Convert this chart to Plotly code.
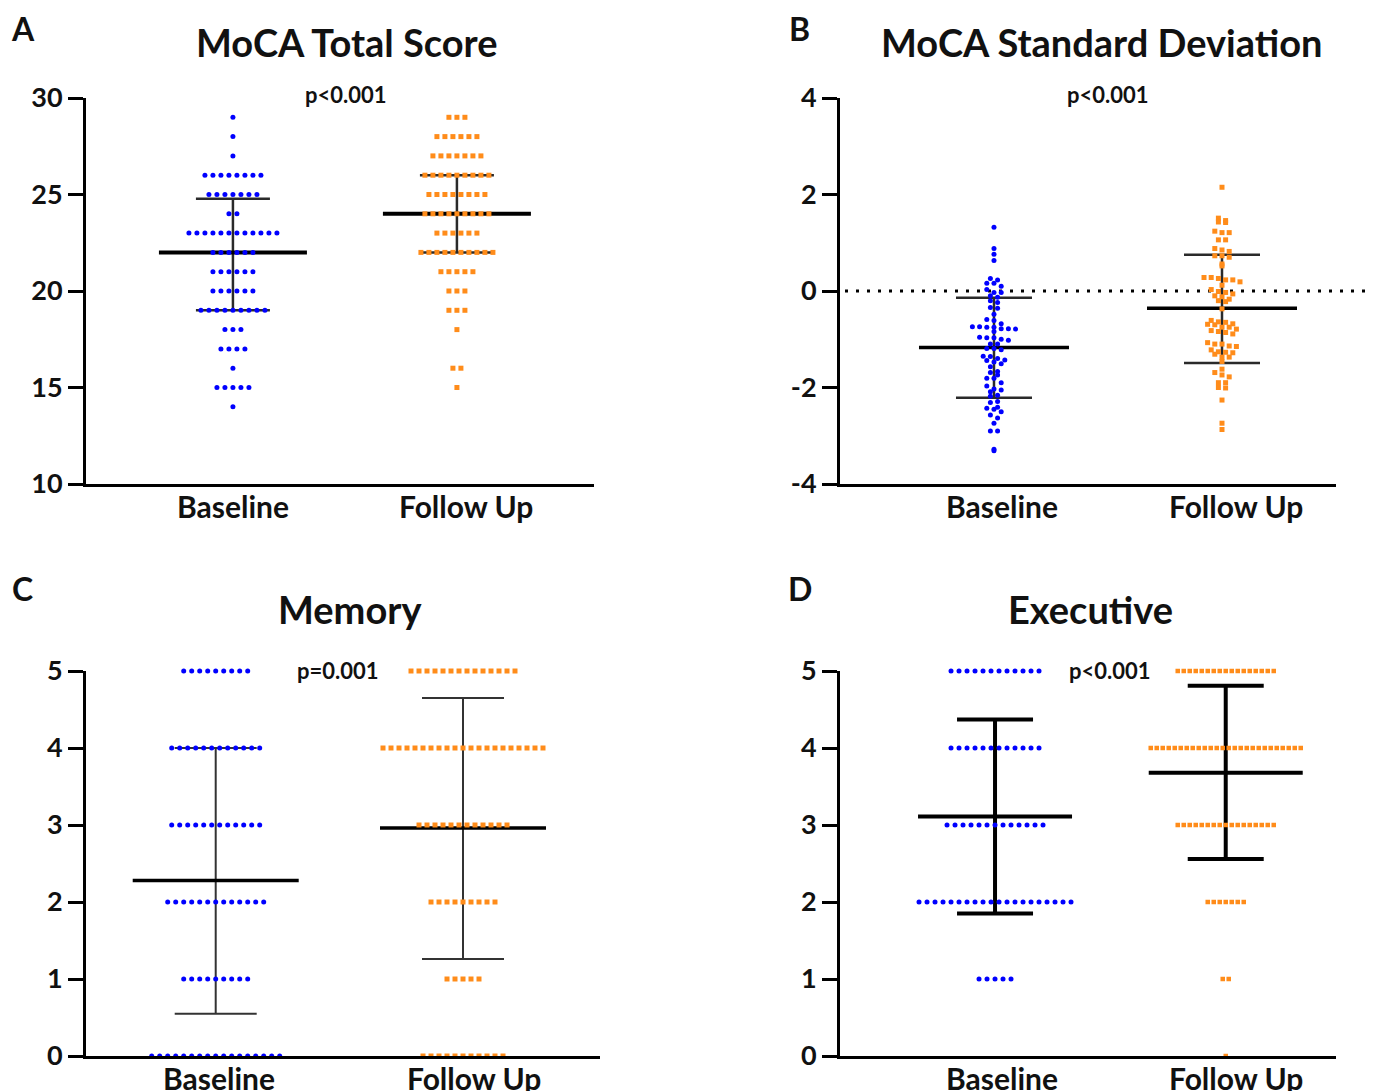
import numpy as np
import plotly.graph_objects as go

# The page adds an 8px body margin, so the figure is drawn 8px smaller and all
# layout pixel positions (measured on the page) are shifted by OFF.
OFF = 8
W, H = 1375 - OFF, 1091 - OFF

GROUPS = ["Baseline", "Follow Up"]

# ---------------- Panel A: MoCA Total Score (score -> number of participants)
A_scores = [29, 28, 27, 26, 25, 24, 23, 22, 21, 20, 19, 18, 17, 16, 15, 14]
A_base_counts = [1, 1, 1, 8, 7, 2, 12, 6, 6, 6, 9, 3, 4, 1, 5, 1]
A_follow_counts = [3, 6, 7, 9, 8, 9, 6, 10, 5, 3, 3, 1, 0, 2, 1, 0]
A_center = [22.0, 24.0]
A_err_lo = [19.0, 22.0]
A_err_hi = [24.78, 26.0]

# ---------------- Panel B: MoCA Standard Deviation (individual values)
B_base = [1.32, 0.88, 0.76, 0.63, 0.26, 0.23, 0.16, 0.16, 0.10, 0.03, -0.03, -0.03,
          -0.10, -0.13, -0.20, -0.24, -0.34, -0.36, -0.48, -0.59, -0.61, -0.68,
          -0.74, -0.74, -0.75, -0.75, -0.78, -0.78, -0.79, -0.84, -0.96, -0.97, -0.97,
          -1.00, -1.02, -1.10, -1.10, -1.19, -1.19, -1.22, -1.35, -1.36, -1.40,
          -1.43, -1.44, -1.47, -1.51, -1.57, -1.67, -1.69, -1.74, -1.81, -1.81,
          -1.90, -1.97, -2.03, -2.05, -2.09, -2.16, -2.18, -2.29, -2.31, -2.41,
          -2.43, -2.45, -2.50, -2.57, -2.63, -2.74, -2.90, -2.90, -3.28, -3.31]
B_follow = [2.15, 1.51, 1.42, 1.46, 1.43, 1.21, 1.21, 1.24, 1.06, 1.06, 0.88, 0.85,
            0.82, 0.73, 0.73, 0.70, 0.56, 0.52, 0.28, 0.26, 0.23, 0.28, 0.19, 0.23,
            0.12, 0.03, -0.01, -0.03, -0.06, -0.10, -0.12, -0.17, -0.20, -0.22, -0.37,
            -0.61, -0.64, -0.65, -0.68, -0.69, -0.70, -0.75, -0.75, -0.79, -0.82,
            -0.84, -0.86, -0.89, -1.07, -1.10, -1.10, -1.14, -1.15, -1.22, -1.26,
            -1.27, -1.28, -1.31, -1.37, -1.37, -1.46, -1.62, -1.69, -1.74, -1.78,
            -1.90, -1.90, -2.00, -2.01, -2.26, -2.74, -2.87]
B_center = [-1.17, -0.36]
B_err_lo = [-2.21, -1.49]
B_err_hi = [-0.14, 0.75]

# ---------------- Panel C: Memory
C_scores = [5, 4, 3, 2, 1, 0]
C_base_counts = [9, 12, 12, 13, 9, 17]
C_follow_counts = [14, 21, 12, 9, 5, 11]
C_center = [2.28, 2.96]
C_err_lo = [0.55, 1.26]
C_err_hi = [4.0, 4.65]

# ---------------- Panel D: Executive
D_scores = [5, 4, 3, 2, 1, 0]
D_base_counts = [12, 12, 13, 20, 5, 0]
D_follow_counts = [17, 26, 17, 7, 2, 1]
D_center = [3.11, 3.68]
D_err_lo = [1.85, 2.56]
D_err_hi = [4.37, 4.81]

BLUE = "#0000FF"
ORANGE = "#FF8C1A"
FONT = "Lato"

panels = [
    dict(key="", letter="A", title="MoCA Total Score", p="p<0.001",
         xpx=(86, 594), ypx=(98, 484), xr=(0.344, 2.612), yr=(10, 30),
         ytick=[10, 15, 20, 25, 30], labx=[1.0, 2.04], lab_y=506,
         title_xy=(347, 42), letter_xy=(23, 28), p_xy=(346, 94),
         mean_hw=74, cap_hw=37, mean_w=4, err_w=2.5, err_c="#2a2a2a"),
    dict(key="2", letter="B", title="MoCA Standard Deviation", p="p<0.001",
         xpx=(840, 1336), ypx=(98, 484), xr=(0.3246, 2.5), yr=(-4, 4),
         ytick=[-4, -2, 0, 2, 4], labx=[1.035, 2.061], lab_y=506,
         title_xy=(1101, 42), letter_xy=(800, 28), p_xy=(1108, 94),
         mean_hw=75, cap_hw=38, mean_w=3.5, err_w=2.5, err_c="#2a2a2a"),
    dict(key="3", letter="C", title="Memory", p="p=0.001",
         xpx=(86, 600), ypx=(671, 1056), xr=(0.4755, 2.554), yr=(0, 5),
         ytick=[0, 1, 2, 3, 4, 5], labx=[1.013, 2.045], lab_y=1078,
         title_xy=(350, 609), letter_xy=(22, 588), p_xy=(338, 670),
         mean_hw=83, cap_hw=41, mean_w=3.5, err_w=2, err_c="#333333"),
    dict(key="4", letter="D", title="Executive", p="p<0.001",
         xpx=(840, 1336), ypx=(671, 1056), xr=(0.328, 2.478), yr=(0, 5),
         ytick=[0, 1, 2, 3, 4, 5], labx=[1.03, 2.045], lab_y=1078,
         title_xy=(1090, 609), letter_xy=(800, 588), p_xy=(1110, 670),
         mean_hw=77, cap_hw=38, mean_w=4, err_w=4, err_c="#000000"),
]


def fx(px):
    return (px - OFF) / W


def fy(py):
    return 1 - (py - OFF) / H


def ppu_x(pn):
    return (pn["xpx"][1] - pn["xpx"][0]) / (pn["xr"][1] - pn["xr"][0])


def ppu_y(pn):
    return (pn["ypx"][1] - pn["ypx"][0]) / (pn["yr"][1] - pn["yr"][0])


def discrete_swarm(center, scores, counts, spacing_px, pn):
    sp = spacing_px / ppu_x(pn)
    xs, ys = [], []
    for s, n in zip(scores, counts):
        for i in range(n):
            xs.append(center + (i - (n - 1) / 2) * sp)
            ys.append(s)
    return xs, ys


def binned_swarm(center, values, spacing_px, bin_px, pn):
    bw = bin_px / ppu_y(pn)
    sp = spacing_px / ppu_x(pn)
    bins = {}
    for v in sorted(values, reverse=True):
        bins.setdefault(int(round(v / bw)), []).append(v)
    xs, ys = [], []
    for b, vals in bins.items():
        n = len(vals)
        for i, v in enumerate(vals):
            xs.append(center + (i - (n - 1) / 2) * sp)
            ys.append(v)
    return xs, ys


fig = go.Figure()

data_sets = {
    "A": [("d", A_scores, A_base_counts), ("d", A_scores, A_follow_counts)],
    "B": [("c", B_base), ("c", B_follow)],
    "C": [("d", C_scores, C_base_counts), ("d", C_scores, C_follow_counts)],
    "D": [("d", D_scores, D_base_counts), ("d", D_scores, D_follow_counts)],
}
stats = {
    "A": (A_center, A_err_lo, A_err_hi),
    "B": (B_center, B_err_lo, B_err_hi),
    "C": (C_center, C_err_lo, C_err_hi),
    "D": (D_center, D_err_lo, D_err_hi),
}

annotations = []
shapes = []
layout_axes = {}

for pn in panels:
    k = pn["key"]
    xa, ya = "x" + k, "y" + k
    L = pn["letter"]
    cen, lo, hi = stats[L]
    px = ppu_x(pn)
    # mean / error bars
    for gi, c in enumerate([1, 2]):
        mhw = pn["mean_hw"] / px
        chw = pn["cap_hw"] / px
        fig.add_trace(go.Scatter(
            x=[c, c, None, c - chw, c + chw, None, c - chw, c + chw],
            y=[lo[gi], hi[gi], None, lo[gi], lo[gi], None, hi[gi], hi[gi]],
            mode="lines", line=dict(color=pn["err_c"], width=pn["err_w"]),
            xaxis=xa, yaxis=ya, hoverinfo="skip", showlegend=False))
        fig.add_trace(go.Scatter(
            x=[c - mhw, c + mhw], y=[cen[gi], cen[gi]],
            mode="lines", line=dict(color="black", width=pn["mean_w"]),
            xaxis=xa, yaxis=ya, hoverinfo="skip", showlegend=False))
    # dots
    for gi, c in enumerate([1, 2]):
        ds = data_sets[L][gi]
        if ds[0] == "d":
            spacing = 6.0 if (L == "D" and gi == 1) else 8.0
            xs, ys = discrete_swarm(c, ds[1], ds[2], spacing, pn)
        else:
            xs, ys = binned_swarm(c, ds[1], 7.2, 6.0, pn)
        if gi == 0:
            mk = dict(color=BLUE, size=5, symbol="circle", line=dict(width=0))
        else:
            mk = dict(color=ORANGE, size=5 if not (L == "D") else 4.5,
                      symbol="square", line=dict(width=0))
        fig.add_trace(go.Scatter(
            x=xs, y=ys, mode="markers", marker=mk, cliponaxis=False,
            xaxis=xa, yaxis=ya, hoverinfo="skip", showlegend=False))

    xdom = [fx(pn["xpx"][0]), fx(pn["xpx"][1])]
    ydom = [fy(pn["ypx"][1]), fy(pn["ypx"][0])]
    layout_axes["xaxis" + k] = dict(
        domain=xdom, range=list(pn["xr"]), showgrid=False, zeroline=False,
        showline=True, linecolor="black", linewidth=3, ticks="",
        showticklabels=False, anchor=ya, automargin=False, fixedrange=True)
    layout_axes["yaxis" + k] = dict(
        domain=ydom, range=list(pn["yr"]), showgrid=False, zeroline=False,
        showline=True, linecolor="black", linewidth=3, ticks="outside",
        ticklen=15, tickwidth=3, tickcolor="black", tickvals=pn["ytick"],
        ticktext=[str(v) for v in pn["ytick"]],
        tickfont=dict(family=FONT, size=27, color="#111", weight="bold"),
        anchor=xa, automargin=False, fixedrange=True)

    # category labels under the x axis
    for gi, name in enumerate(GROUPS):
        annotations.append(dict(text=name, x=pn["labx"][gi], y=fy(pn["lab_y"]),
                                xref=xa, yref="paper", showarrow=False,
                                xanchor="center", yanchor="middle",
                                font=dict(family=FONT, size=30, color="#111", weight="bold")))

    annotations.append(dict(text=pn["title"], x=fx(pn["title_xy"][0]), y=fy(pn["title_xy"][1]),
                            xref="paper", yref="paper", showarrow=False, xanchor="center", yanchor="middle",
                            font=dict(family=FONT, size=38, color="#111", weight="bold")))
    annotations.append(dict(text=pn["letter"], x=fx(pn["letter_xy"][0]), y=fy(pn["letter_xy"][1]),
                            xref="paper", yref="paper", showarrow=False, xanchor="center", yanchor="middle",
                            font=dict(family=FONT, size=32, color="#111", weight="bold")))
    annotations.append(dict(text=pn["p"], x=fx(pn["p_xy"][0]), y=fy(pn["p_xy"][1]),
                            xref="paper", yref="paper", showarrow=False, xanchor="center", yanchor="middle",
                            font=dict(family=FONT, size=22, color="#111", weight="bold")))

    if L == "B":
        zero_frac = ydom[0] + (0 - pn["yr"][0]) / (pn["yr"][1] - pn["yr"][0]) * (ydom[1] - ydom[0])
        shapes.append(dict(type="line", xref="paper", yref="paper",
                           x0=fx(pn["xpx"][0] + 5), x1=fx(1368), y0=zero_frac, y1=zero_frac,
                           line=dict(color="black", width=3, dash="3px,8px"), layer="below"))

fig.update_layout(
    width=W, height=H, autosize=False,
    margin=dict(l=0, r=0, t=0, b=0),
    paper_bgcolor="white", plot_bgcolor="rgba(0,0,0,0)",
    annotations=annotations, shapes=shapes, showlegend=False,
    **layout_axes)

fig.write_html("out.html")
